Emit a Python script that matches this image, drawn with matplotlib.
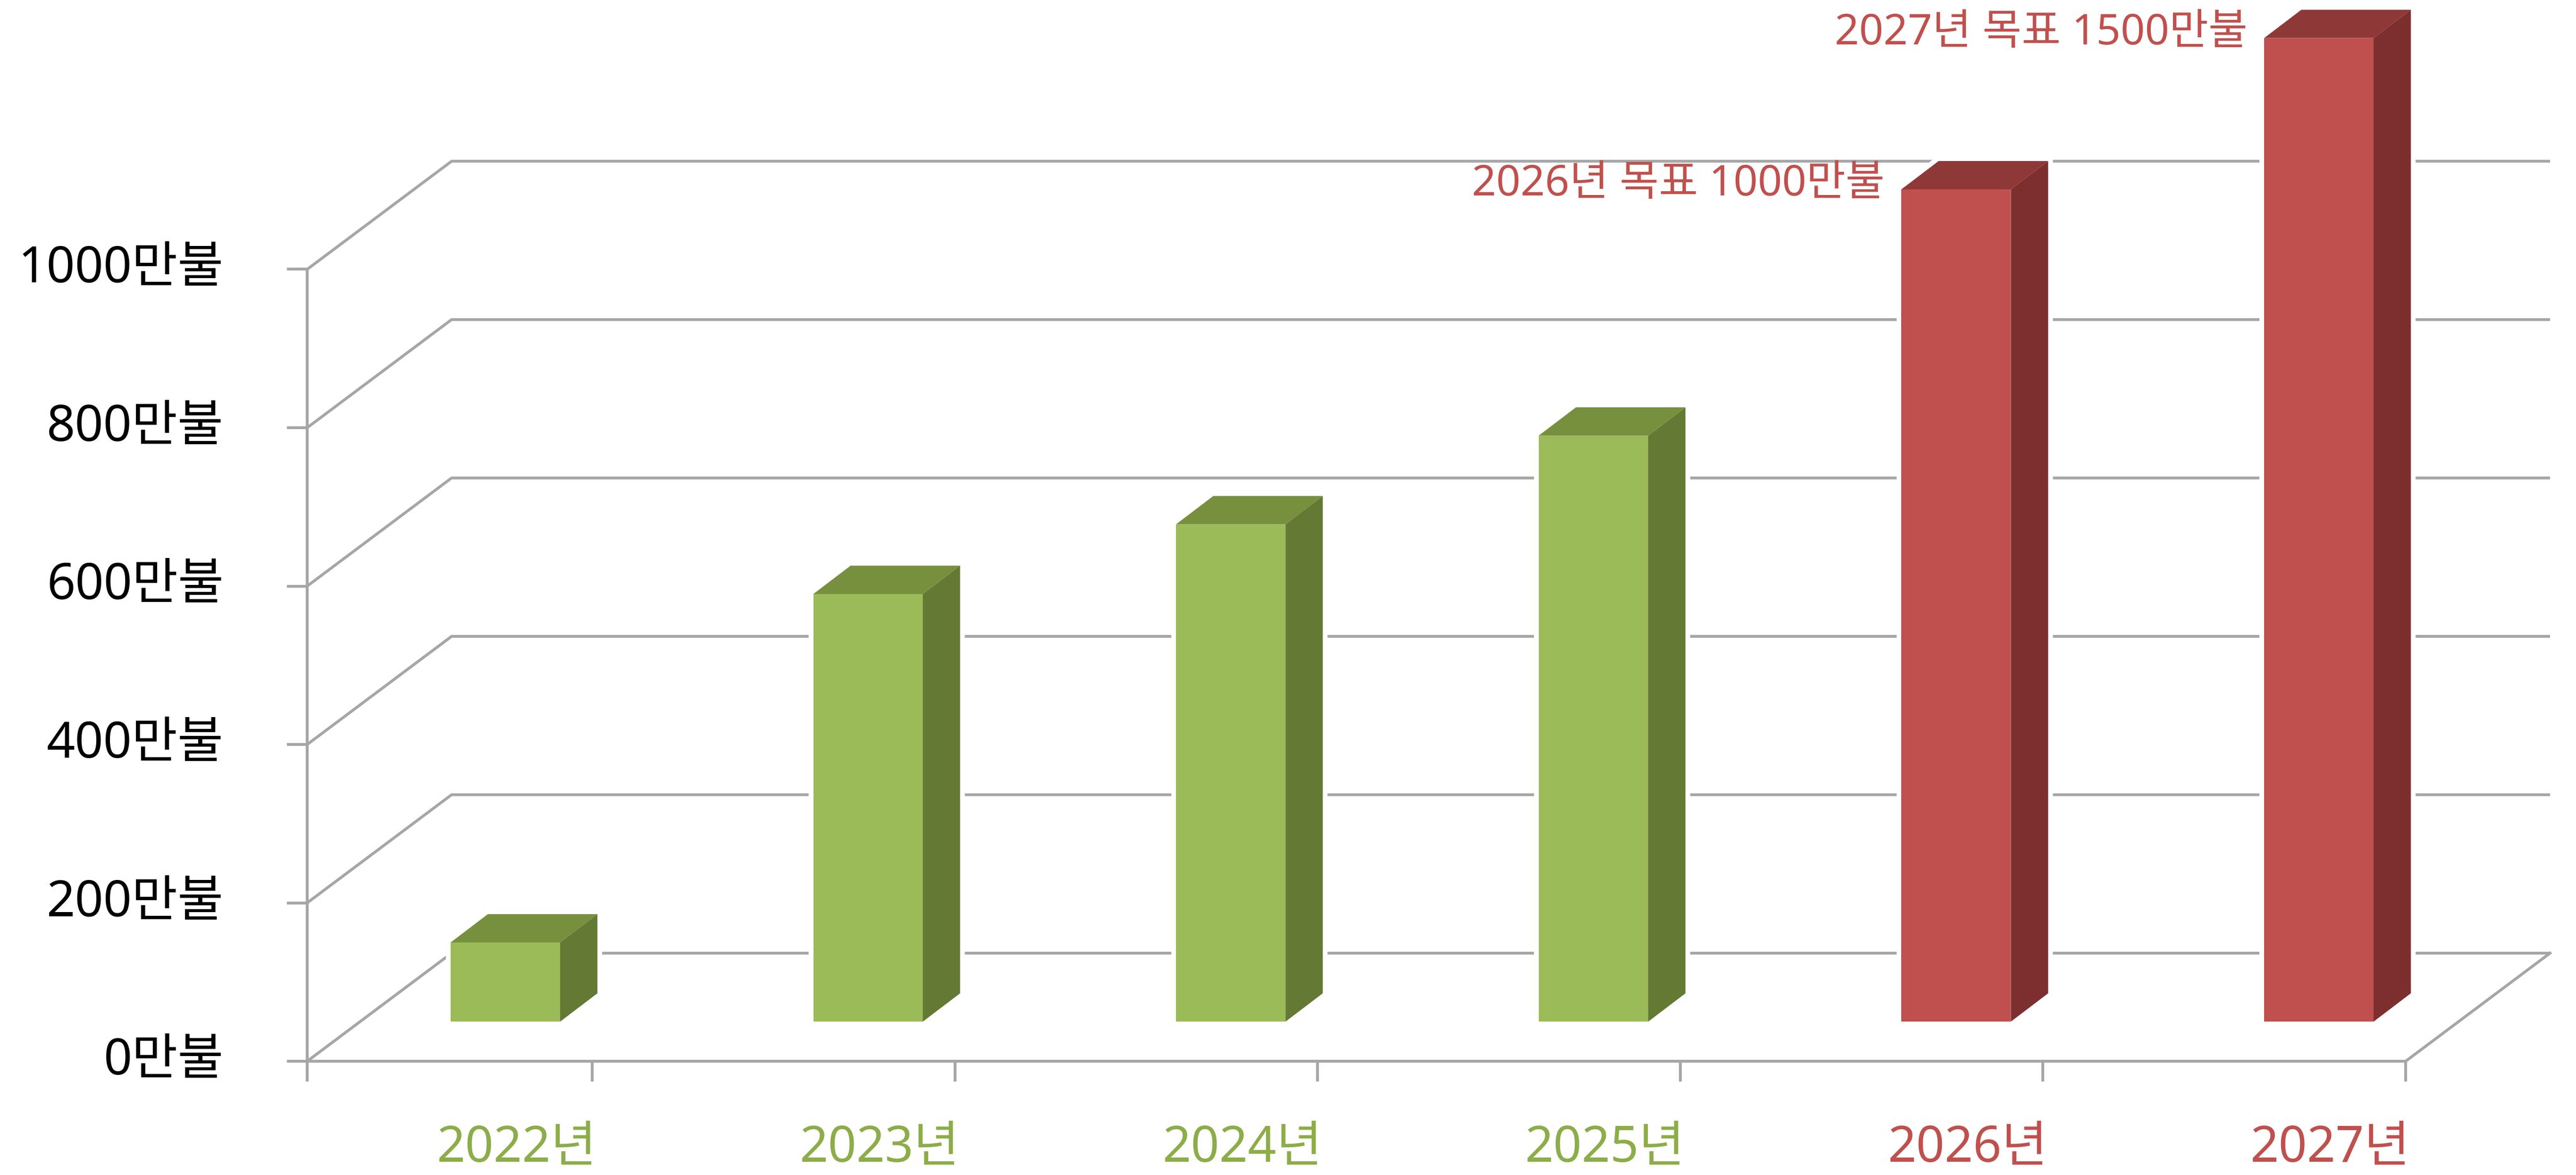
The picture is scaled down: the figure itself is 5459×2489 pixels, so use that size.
import matplotlib
matplotlib.use('Agg')
import matplotlib.pyplot as plt
from matplotlib.patches import Polygon

# Latin digits from Noto Sans, Hangul falls through to the CJK family
plt.rcParams['font.family'] = ['Noto Sans', 'Noto Sans CJK KR', 'DejaVu Sans']

# data (values in 만불, as drawn)
years = ['2022년', '2023년', '2024년', '2025년', '2026년', '2027년']
values = [100, 540, 628, 740, 1051, 1242]
is_target = [False, False, False, False, True, True]
target_labels = ['', '', '', '', '2026년 목표 1000만불', '2027년 목표 1500만불']
yticks = [0, 200, 400, 600, 800, 1000]
ytick_labels = [f'{v}만불' for v in yticks]

# layout (pixel sizes converted to data units)
W, H, DPI = 5459, 2489, 200
px_slot = 768.6     # pixels per category
px_val = 1.6775     # pixels per value unit
x_first = 1071      # pixel centre of first bar front face
y_zero = 241        # pixel height of front floor above bottom edge

axis_x = (651 - x_first) / px_slot
bar_w = 232 / px_slot
side_dx = 79 / px_slot
side_dy = 60 / px_val
wall_dx = 306 / px_slot
wall_dy = 229 / px_val
base = 50                       # bars stand in the middle of the floor
tick_off = 184 / px_slot        # category tick relative to bar centre
tick_len_y = 40 / px_val
tick_len_x = 40 / px_slot

green = dict(front='#9bbb59', side='#637934', top='#76903e', text='#8cad48')
red = dict(front='#c0504d', side='#7c2f2e', top='#8e3937', text='#c0504d')
grid_c = '#a6a6a6'
grid_lw = 6 * 72 / DPI

fig = plt.figure(figsize=(W / DPI, H / DPI), dpi=DPI)
ax = fig.add_axes([0, 0, 1, 1])
ax.set_xlim(-x_first / px_slot, (W - x_first) / px_slot)
ax.set_ylim(-y_zero / px_val, (H - y_zero) / px_val)
ax.axis('off')

xs = list(range(len(years)))
x_ticks = [x + tick_off for x in xs]
floor_r = x_ticks[-1]

# back wall gridlines with their diagonals to the front axis
for v in yticks:
    ax.plot([axis_x, axis_x + wall_dx, floor_r + wall_dx], [v, v + wall_dy, v + wall_dy],
            color=grid_c, lw=grid_lw, zorder=1, solid_capstyle='butt')
    ax.plot([axis_x - tick_len_x, axis_x], [v, v], color=grid_c, lw=grid_lw, zorder=1)

# floor front edge and right edge
ax.plot([axis_x, floor_r, floor_r + wall_dx], [0, 0, wall_dy], color=grid_c, lw=grid_lw, zorder=1)
# front value axis
ax.plot([axis_x, axis_x], [yticks[-1], -tick_len_y], color=grid_c, lw=grid_lw, zorder=1)
for xt in x_ticks:
    ax.plot([xt, xt], [0, -tick_len_y], color=grid_c, lw=grid_lw, zorder=1)

# bars: front face with ax.bar, side and top as polygons
for x, v, tgt, lab in zip(xs, values, is_target, target_labels):
    c = red if tgt else green
    L, R = x - bar_w / 2, x + bar_w / 2
    b, t = base, base + v
    outline = [(L, b), (R, b), (R + side_dx, b + side_dy), (R + side_dx, t + side_dy),
               (L + side_dx, t + side_dy), (L, t)]
    ax.add_patch(Polygon(outline, closed=True, facecolor='white', edgecolor='white',
                         lw=20 * 72 / DPI, zorder=2))
    ax.bar(x, v, width=bar_w, bottom=b, color=c['front'], zorder=3)
    ax.add_patch(Polygon([(R, b), (R + side_dx, b + side_dy), (R + side_dx, t + side_dy), (R, t)],
                         closed=True, facecolor=c['side'], edgecolor='none', zorder=3))
    ax.add_patch(Polygon([(L, t), (R, t), (R + side_dx, t + side_dy), (L + side_dx, t + side_dy)],
                         closed=True, facecolor=c['top'], edgecolor='none', zorder=3))
    if lab:
        ax.text(L - 35 / px_slot, t + 10 / px_val, lab, ha='right', va='center',
                fontsize=32.5, color=c['text'], zorder=4)

# value labels
for v, s in zip(yticks, ytick_labels):
    ax.text(axis_x - 177 / px_slot, v, s, ha='right', va='center', fontsize=38, color='black')

# category labels
label_y = -y_zero / px_val + 56 / px_val
for xt, s, tgt in zip(x_ticks, years, is_target):
    c = red if tgt else green
    ax.text(xt + 10 / px_slot, label_y, s, ha='right', va='center', fontsize=38, color=c['text'])

fig.savefig('out.png', dpi=DPI, facecolor='white')
